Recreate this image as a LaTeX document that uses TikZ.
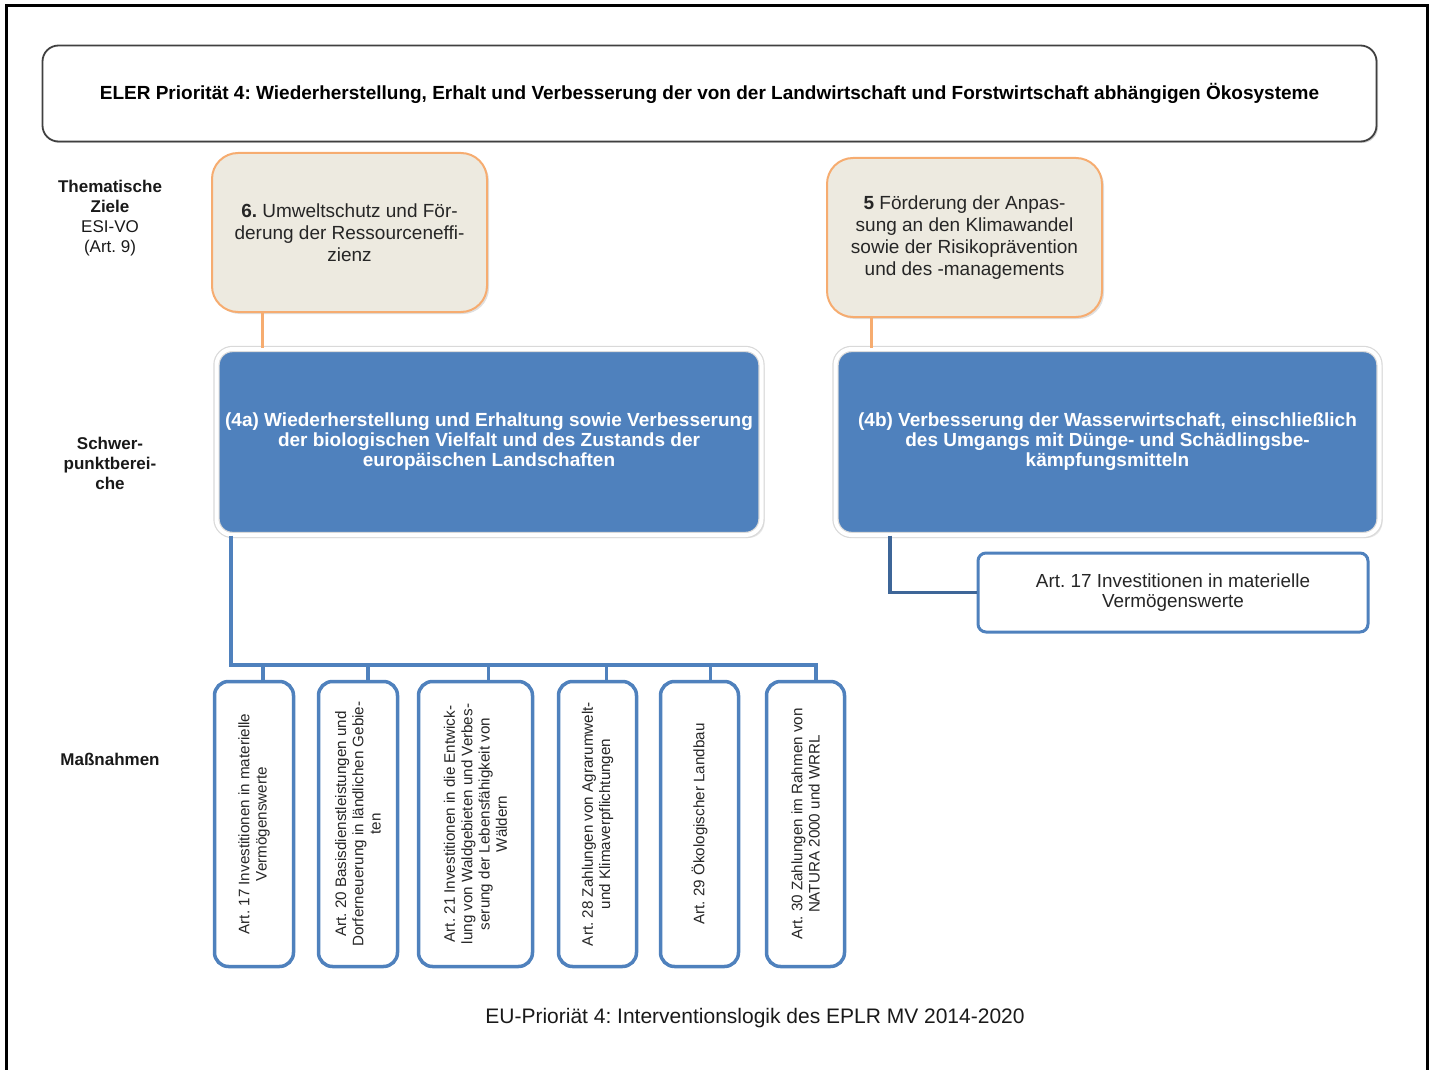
\documentclass[tikz,border=0pt]{standalone}
\usepackage{fontspec}
\setmainfont{Liberation Sans}
\usetikzlibrary{shadows}
\frenchspacing

\definecolor{tz_fill}{RGB}{237,234,224}
\definecolor{tz_line}{RGB}{246,172,112}
\definecolor{sp_blue}{RGB}{79,129,189}
\definecolor{sp_dark}{RGB}{62,102,152}

\begin{document}
\begin{tikzpicture}[x=1pt, y=-1pt, thick]
    \tikzstyle{node_head} = [draw=black!75, line width=1.8, fill=white, rounded corners=16, minimum width=1334, minimum height=96, drop shadow={shadow xshift=1.5pt, shadow yshift=-1.5pt, opacity=0.35}, font={\fontsize{19}{20}\selectfont\bfseries}]
    \tikzstyle{node_label} = [align=center, text=black!90, font={\fontsize{17}{20}\selectfont}]
    \tikzstyle{node_tz} = [draw=tz_line, line width=2, fill=tz_fill, rounded corners=26, minimum width=275, minimum height=159, align=center, text=black!85, drop shadow={shadow xshift=2pt, shadow yshift=-2pt, opacity=0.25}, font={\fontsize{19}{22}\selectfont}]
    \tikzstyle{node_sp} = [draw=black!15, double=white, double distance=4, line width=1.2, fill=sp_blue, rounded corners=16, minimum width=545, minimum height=186, align=center, text=white, drop shadow={shadow xshift=3pt, shadow yshift=-3pt, opacity=0.2}, font={\fontsize{19}{20}\selectfont\bfseries}]
    \tikzstyle{node_mass} = [draw=sp_blue, line width=3.5, fill=white, rounded corners=14, rotate=90, minimum width=285, align=center, text=black!85, font={\fontsize{15.2}{17.3}\selectfont}]
    \tikzstyle{node_mass_h} = [draw=sp_blue, line width=3, fill=white, rounded corners=8, minimum width=390, minimum height=79, align=center, text=black!85, font={\fontsize{18.9}{20}\selectfont}]
    \tikzstyle{line_orange} = [draw=tz_line, line width=3]
    \tikzstyle{line_blue} = [draw=sp_blue, line width=4]
    \tikzstyle{line_dark} = [draw=sp_dark, line width=3.5]

    \useasboundingbox (0,0) rectangle (1433,1070);
    \draw[line width=3] (6,1070) -- (6,6) -- (1427,6) -- (1427,1070);

    \node[node_head] (nHead) at (709.5,93.5) {ELER Priorität 4: Wiederherstellung, Erhalt und Verbesserung der von der Landwirtschaft und Forstwirtschaft abhängigen Ökosysteme};

    % ---------------------------------------

    \node[node_label] (nLabTZ) at (110,218) {\textbf{Thematische}\\\textbf{Ziele}\\ESI-VO\\(Art. 9)};
    \node[node_label, font={\fontsize{17}{20}\selectfont\bfseries}] (nLabSP) at (110,463) {Schwer-\\punktberei-\\che};
    \node[node_label, font={\fontsize{17}{20}\selectfont\bfseries}] (nLabM) at (110,759) {Maßnahmen};

    % ---------------------------------------

    \node[node_tz] (nTZ6) at (349.5,232.5) {\textbf{6.} Umweltschutz und För-\\derung der Ressourceneffi-\\zienz};
    \node[node_tz] (nTZ5) at (964.5,237.5) {\textbf{5} Förderung der Anpas-\\sung an den Klimawandel\\sowie der Risikoprävention\\und des -managements};

    \node[node_sp] (n4a) at (489,442) {(4a) Wiederherstellung und Erhaltung sowie Verbesserung\\der biologischen Vielfalt und des Zustands der\\europäischen Landschaften};
    \node[node_sp, minimum width=544] (n4b) at (1107.5,442) {(4b) Verbesserung der Wasserwirtschaft, einschließlich\\des Umgangs mit Dünge- und Schädlingsbe-\\kämpfungsmitteln};

    \draw[line_orange] ([xshift=-87.5]nTZ6.south) -- ([xshift=-87.5]nTZ6.south |- n4a.north);
    \draw[line_orange] ([xshift=-93.5]nTZ5.south) -- ([xshift=-93.5]nTZ5.south |- n4b.north);

    % ---------------------------------------

    \node[node_mass_h] (nM17b) at (1173,592.5) {Art. 17 Investitionen in materielle\\Vermögenswerte};
    \draw[line_dark] ([xshift=-217.5]n4b.south) |- (nM17b.west);

    % ---------------------------------------

    \node[node_mass, minimum height=79] (nM17) at (254,824) {Art. 17 Investitionen in materielle\\Vermögenswerte};
    \node[node_mass, minimum height=79] (nM20) at (358,824) {Art. 20 Basisdienstleistungen und\\Dorferneuerung in ländlichen Gebie-\\ten};
    \node[node_mass, minimum height=114] (nM21) at (475.5,824) {Art. 21 Investitionen in die Entwick-\\lung von Waldgebieten und Verbes-\\serung der Lebensfähigkeit von\\Wäldern};
    \node[node_mass, minimum height=78] (nM28) at (597.5,824) {Art. 28 Zahlungen von Agrarumwelt-\\und Klimaverpflichtungen};
    \node[node_mass, minimum height=78] (nM29) at (699.5,824) {Art. 29 Ökologischer Landbau};
    \node[node_mass, minimum height=78] (nM30) at (805.5,824) {Art. 30 Zahlungen im Rahmen von\\NATURA 2000 und WRRL};

    \coordinate (bus_l) at (231,665);
    \draw[line_blue] (n4a.south -| bus_l) -- (bus_l) -| ([xshift=10]nM30.east);
    \foreach \n/\s in {nM17/9, nM20/10, nM21/13, nM28/9, nM29/11}
        \draw[line_blue, line width=3.5] ([xshift=\s]\n.east) -- ([xshift=\s]\n.east |- bus_l);

    \node[font={\fontsize{21}{22}\selectfont}, text=black!90] (nCaption) at (755,1018) {EU-Prioriät 4: Interventionslogik des EPLR MV 2014-2020};

\end{tikzpicture}
\end{document}
